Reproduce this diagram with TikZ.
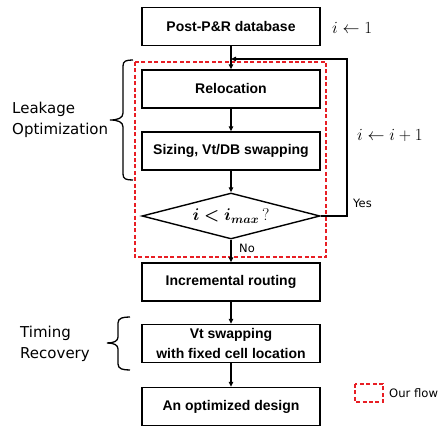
\RequirePackage{fix-cm}
\documentclass[tikz,border=0pt]{standalone}
\usepackage{fontspec}
\usepackage{amsmath,bm}
\usetikzlibrary{shapes.geometric,arrows.meta}
\newfontfamily\boxfont{Liberation Sans}
\newfontfamily\lblfont{DejaVu Sans}
\definecolor{flowred}{RGB}{232,30,36}
\tikzset{
  procbox/.style={draw, line width=1.4pt, minimum width=178pt, minimum height=38pt, inner sep=0pt,
    font=\boxfont\bfseries\fontsize{14}{20}\selectfont, align=center},
  decbox/.style={draw, line width=1.4pt, diamond, aspect=3.87, minimum width=178pt, minimum height=46pt, inner sep=0pt},
  conn/.style={line width=1.1pt, -{Triangle[length=5pt,width=4.5pt]}},
  ourflow/.style={draw=flowred, line width=1.6pt, dash pattern=on 4pt off 2.4pt},
  sidelbl/.style={font=\lblfont\fontsize{15}{21}\selectfont, align=left, inner sep=0pt},
  smalllbl/.style={font=\lblfont\fontsize{11.5}{13}\selectfont, inner sep=0pt},
  mathlbl/.style={font=\fontsize{17}{20}\selectfont, inner sep=0pt},
  bracestyle/.style={line width=1.3pt}
}
\begin{document}
\begin{tikzpicture}[x=1pt,y=-1pt]
\useasboundingbox (0,0) rectangle (440,427);
% red dashed region
\draw[ourflow] (135,62) rectangle (326,257);
% nodes
\node[procbox] (post) at (231,26.5) {Post-P\&R database};
\node[procbox] (reloc) at (231,89) {Relocation};
\node[procbox] (size) at (231,151) {Sizing, Vt/DB swapping};
\node[decbox] (dec) at (231,216) {\fontsize{17}{20}\selectfont$\bm{i<i_{max}}\,\mathrm{?}$};
\node[procbox] (route) at (231,282) {Incremental routing};
\node[procbox] (vt) at (231,343.5) {Vt swapping\\with fixed cell location};
\node[procbox] (opt) at (231,406.5) {An optimized design};
% connectors
\coordinate (join) at (231,59);
\coordinate (loopcorner) at (347,59);
\draw[conn] (post) -- (reloc);
\draw[conn] (reloc) -- (size);
\draw[conn] (size) -- (dec);
\draw[conn] (dec) -- (route);
\draw[conn] (route) -- (vt);
\draw[conn] (vt) -- (opt);
\draw[conn] (dec.east) -| (loopcorner) -- (join);
% labels
\node[mathlbl, anchor=west] (init) at (332,28) {$i \leftarrow 1$};
\node[mathlbl, anchor=west] (incr) at (357,135) {$i \leftarrow i+1$};
\node[smalllbl, anchor=west] (yes) at (353,203) {Yes};
\node[smalllbl, anchor=west] (no) at (239,248) {No};
\node[sidelbl, anchor=west] (leak) at (12,120) {Leakage\\Optimization};
\node[sidelbl, anchor=west] (timing) at (20,344) {Timing\\Recovery};
% braces
\draw[bracestyle] (133,60) .. controls (126,60) and (123,61) .. (123,66) -- (123,113)
  .. controls (123,118) and (118,120) .. (110,120)
  .. controls (118,120) and (123,122) .. (123,127) -- (123,174)
  .. controls (123,179) and (126,180) .. (133,180);
\draw[bracestyle] (130,317) .. controls (123,317) and (118,318) .. (118,323) -- (118,337)
  .. controls (118,341) and (114,343) .. (107,343)
  .. controls (114,343) and (118,345) .. (118,349) -- (118,364)
  .. controls (118,369) and (123,370) .. (130,370);
% legend
\draw[ourflow] (355,384) rectangle (383,402);
\node[sidelbl, anchor=west, font=\lblfont\fontsize{11.6}{14}\selectfont] (legend) at (389,393) {Our flow};
\end{tikzpicture}
\end{document}
